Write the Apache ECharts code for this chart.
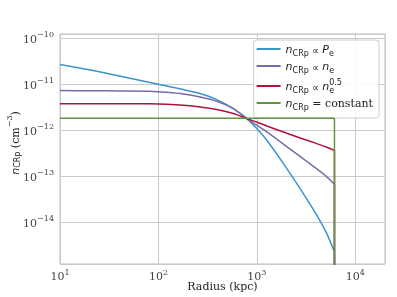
<!DOCTYPE html>
<html>
<head>
<meta charset="utf-8">
<script src="https://cdn.jsdelivr.net/npm/echarts@6/dist/echarts.min.js"></script>
<style>html,body{margin:0;padding:0;background:#fff}#c{width:397px;height:297px}</style>
</head>
<body>
<div id="c"></div>
<script>
// ---- data ----
const radius = [10, 21, 40, 82, 121, 179, 265, 391, 577, 789, 997, 1261, 1859, 2747, 4061, 5131, 6135];
const nPe    = [2.68e-11, 2.02e-11, 1.51e-11, 1.09e-11, 9.19e-12, 7.67e-12, 6.28e-12, 4.65e-12, 2.96e-12, 1.80e-12, 1.09e-12, 6.07e-13, 1.89e-13, 5.41e-14, 1.42e-14, 5.68e-15, 2.26e-15];
const nNe    = [7.3e-12, 7.25e-12, 7.15e-12, 7.05e-12, 6.70e-12, 6.17e-12, 5.30e-12, 4.27e-12, 2.96e-12, 1.80e-12, 1.29e-12, 9.2e-13, 5.0e-13, 2.7e-13, 1.45e-13, 9.7e-14, 6.7e-14];
const nNe05  = [3.78e-12, 3.78e-12, 3.78e-12, 3.76e-12, 3.67e-12, 3.49e-12, 3.21e-12, 2.82e-12, 2.31e-12, 1.80e-12, 1.51e-12, 1.24e-12, 9.2e-13, 6.81e-13, 5.14e-13, 4.27e-13, 3.67e-13];
const nConst = [1.83e-12, 1.83e-12, 1.83e-12, 1.83e-12, 1.83e-12, 1.83e-12, 1.83e-12, 1.83e-12, 1.83e-12, 1.83e-12, 1.83e-12, 1.83e-12, 1.83e-12, 1.83e-12, 1.83e-12, 1.83e-12, 1.83e-12];
const cutoffFloor = 1e-16;   // profiles drop to zero beyond the cutoff radius
const seriesNames = ['Pe', 'ne', 'ne05', 'const'];
const xRange = [10, 2e4];
const yRange = [1.24e-15, 1.24e-10];

const colors = ['#3b94cc', '#7b6aaa', '#b0123c', '#5f9445'];
const serif = 'DejaVu Serif';
const sans = 'DejaVu Sans';

function pair(xs, ys) { return xs.map((x, i) => [x, ys[i]]); }

function powLabel(v) {
  const e = Math.log10(v);
  const r = Math.round(e);
  if (Math.abs(e - r) > 1e-6) return '';
  const s = r < 0 ? '\u2212' + (-r) : '' + r;
  return '{b|10}{s|' + s + '}';
}
const tickRich = {
  b: { fontFamily: serif, fontSize: 11, color: '#444', verticalAlign: 'bottom', lineHeight: 14 },
  s: { fontFamily: serif, fontSize: 8, color: '#444', verticalAlign: 'top', lineHeight: 14, padding: [0, 0, 6, 0] }
};

const legendText = {
  Pe: '{i|n}{sub|CRp}{t| \u221D }{i|P}{sub|e}',
  ne: '{i|n}{sub|CRp}{t| \u221D }{i|n}{sub|e}',
  ne05: '{i|n}{sub|CRp}{t| \u221D }{i|n}{sub|e}{sup|0.5}',
  const: '{i|n}{sub|CRp}{c| = constant}'
};
const legRich = {
  i: { fontFamily: sans, fontStyle: 'italic', fontSize: 11, color: '#222', lineHeight: 14, verticalAlign: 'bottom' },
  sub: { fontFamily: sans, fontSize: 8, color: '#222', lineHeight: 14, verticalAlign: 'bottom', padding: [0, 0, -2, 0] },
  sup: { fontFamily: sans, fontSize: 8, color: '#222', lineHeight: 14, verticalAlign: 'top', padding: [0, 0, 4, -5] },
  t: { fontFamily: sans, fontSize: 10, color: '#222', lineHeight: 14, verticalAlign: 'bottom' },
  c: { fontFamily: serif, fontSize: 11, color: '#222', lineHeight: 14, verticalAlign: 'bottom' }
};

const ys = [nPe, nNe, nNe05, nConst];
const mainSeries = seriesNames.map((n, i) => ({
  name: n, type: 'line', data: pair(radius, ys[i]), symbol: 'none', showSymbol: false,
  smooth: 0.2, clip: true, z: 2 + i,
  lineStyle: { color: colors[i], width: 1.5 }, itemStyle: { color: colors[i] }
}));
const lastR = radius[radius.length - 1];
const dropSeries = seriesNames.map((n, i) => ({
  name: n + '_cut', type: 'line',
  data: [[lastR, ys[i][ys[i].length - 1]], [lastR, cutoffFloor]],
  symbol: 'none', showSymbol: false, clip: true, z: 2 + i,
  lineStyle: { color: colors[i], width: 1.5 }, itemStyle: { color: colors[i] }
}));

const chart = echarts.init(document.getElementById('c'), null, { renderer: 'canvas' });
chart.setOption({
  animation: false,
  backgroundColor: '#fff',
  grid: { left: 60, right: 12, top: 34, bottom: 33, show: true, borderColor: '#bcbcbc', borderWidth: 1,
          containLabel: false, outerBoundsMode: 'none' },
  xAxis: {
    type: 'log', logBase: 10, min: xRange[0], max: xRange[1],
    name: 'Radius (kpc)', nameLocation: 'middle', nameGap: 18, nameMoveOverlap: false,
    nameTextStyle: { fontFamily: serif, fontSize: 11, color: '#222' },
    axisLine: { show: false }, axisTick: { show: false },
    axisLabel: { formatter: powLabel, rich: tickRich, margin: 5 },
    splitLine: { show: true, lineStyle: { color: '#cbcbcb', width: 1 } },
    minorTick: { show: false }
  },
  yAxis: {
    type: 'log', logBase: 10, min: yRange[0], max: yRange[1],
    name: '{i|n}{sub|CRp}{r| (cm}{sup|\u22123}{r|)}', nameLocation: 'middle', nameGap: 38, nameRotate: 90,
    nameMoveOverlap: false,
    nameTextStyle: { padding: [0, 0, 0, 12], rich: {
      i: { fontFamily: sans, fontStyle: 'italic', fontSize: 11, color: '#222', lineHeight: 16, verticalAlign: 'bottom' },
      sub: { fontFamily: sans, fontSize: 8, color: '#222', lineHeight: 16, verticalAlign: 'bottom' },
      r: { fontFamily: serif, fontSize: 11, color: '#222', lineHeight: 16, verticalAlign: 'bottom' },
      sup: { fontFamily: serif, fontSize: 8, color: '#222', lineHeight: 16, verticalAlign: 'top' }
    } },
    axisLine: { show: false }, axisTick: { show: false },
    axisLabel: { formatter: powLabel, rich: tickRich, margin: 6 },
    splitLine: { show: true, lineStyle: { color: '#cbcbcb', width: 1 } }
  },
  legend: {
    orient: 'vertical', right: 18, top: 40,
    backgroundColor: 'rgba(255,255,255,0.9)', borderColor: '#cccccc', borderWidth: 1, borderRadius: 3,
    padding: [5, 6, 6, 3], itemGap: 4, itemWidth: 24, itemHeight: 2, icon: 'rect',
    data: seriesNames,
    formatter: n => legendText[n],
    textStyle: { rich: legRich }
  },
  series: mainSeries.concat(dropSeries)
});
</script>
</body>
</html>
